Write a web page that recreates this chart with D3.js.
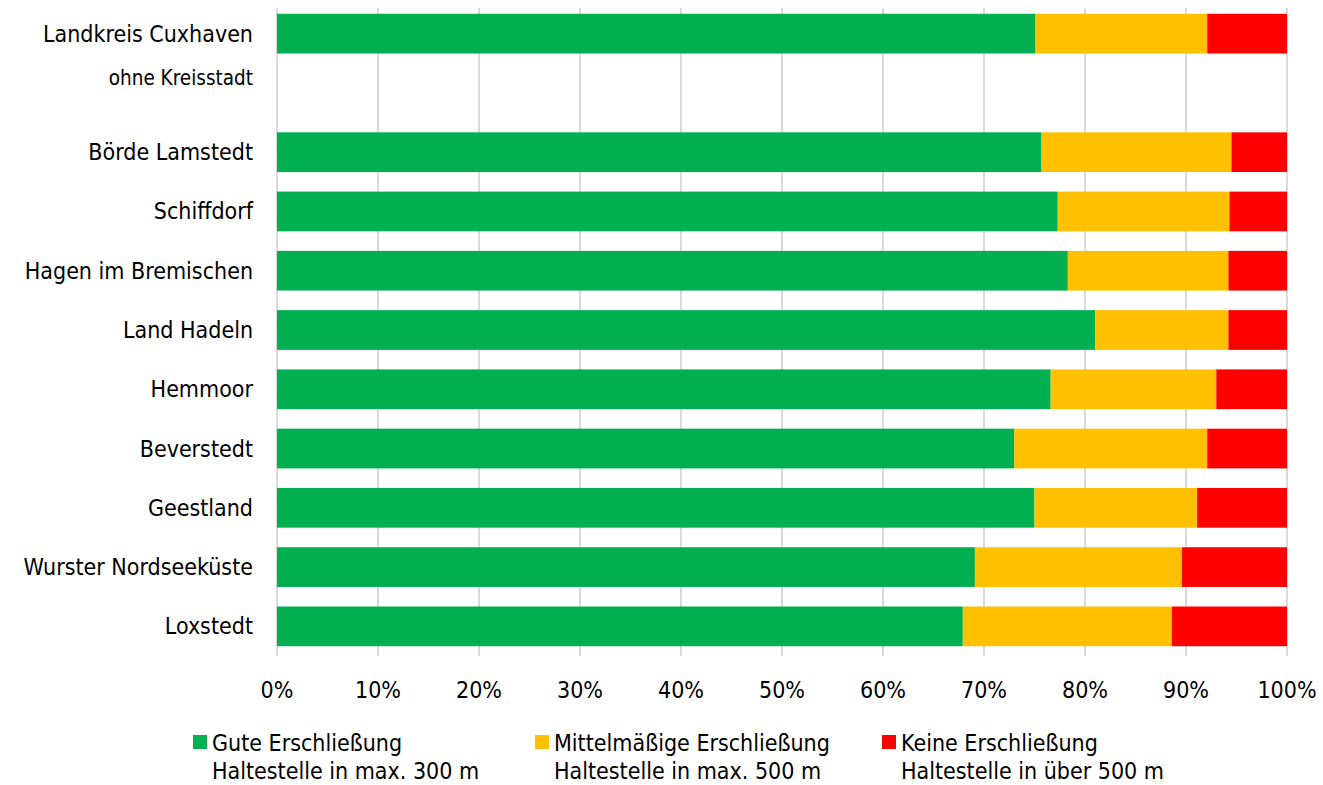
<!DOCTYPE html>
<html><head><meta charset="utf-8">
<script src="https://cdn.jsdelivr.net/npm/d3@7/dist/d3.min.js"></script>
<style>
body{margin:0;background:#fff;}
text{font-family:"DejaVu Sans Condensed","DejaVu Sans",sans-serif;fill:#000;}
</style></head><body>
<svg id="c" width="1323" height="785"></svg>
<script>
const categories = ["Landkreis Cuxhaven", "", "Börde Lamstedt", "Schiffdorf", "Hagen im Bremischen", "Land Hadeln", "Hemmoor", "Beverstedt", "Geestland", "Wurster Nordseeküste", "Loxstedt"];
const subLabel = "ohne Kreisstadt";
const good   = [75.1, null, 75.7, 77.3, 78.3, 81.0, 76.6, 73.0, 75.0, 69.1, 67.9];
const medium = [17.0, null, 18.8, 17.0, 15.9, 13.2, 16.4, 19.1, 16.1, 20.5, 20.7];
const none   = [7.9, null, 5.5, 5.7, 5.8, 5.8, 7.0, 7.9, 8.9, 10.4, 11.4];
const seriesNames = ["Gute Erschließung", "Mittelmäßige Erschließung", "Keine Erschließung"];
const seriesSub = ["Haltestelle in max. 300 m", "Haltestelle in max. 500 m", "Haltestelle in über 500 m"];
const colors = ["#00B050", "#FFC000", "#FF0000"];
const ticks = [0,10,20,30,40,50,60,70,80,90,100];

const svg = d3.select("#c");
const m = {left:277, right:36, top:4, bottom:129};
const W = 1323, H = 785;
const x = d3.scaleLinear().domain([0,100]).range([m.left, W - m.right]);
const keys = categories.map((c,i)=>"k"+i);
const y = d3.scaleBand().domain(keys).range([m.top, H - m.bottom]).paddingInner(0.33).paddingOuter(0.165);

// gridlines
svg.append("g").selectAll("line").data(ticks).join("line")
  .attr("x1", d=>x(d)).attr("x2", d=>x(d))
  .attr("y1", m.top + 4).attr("y2", H - m.bottom)
  .attr("stroke", "#D9D9D9").attr("stroke-width", 2);

const rows = categories.map((c,i)=>({key:keys[i], vals:[good[i], medium[i], none[i]]}));
const segs = [];
rows.forEach(r=>{
  if (r.vals[0] == null) return;
  let acc = 0;
  r.vals.forEach((v,j)=>{ segs.push({key:r.key, x0:acc, x1:acc+v, j}); acc += v; });
});
svg.append("g").selectAll("rect").data(segs).join("rect")
  .attr("x", d=>x(d.x0)).attr("width", d=>x(d.x1)-x(d.x0))
  .attr("y", d=>y(d.key)).attr("height", y.bandwidth())
  .attr("fill", d=>colors[d.j]);

// category labels
const lab = svg.append("g");
categories.forEach((c,i)=>{
  lab.append("text").attr("x", m.left - 24).attr("y", y(keys[i]) + y.bandwidth()/2)
    .attr("text-anchor","end").attr("dominant-baseline","central")
    .attr("font-size", 23).text(c);
});
lab.append("text").attr("x", m.left - 24).attr("y", y(keys[0]) + y.bandwidth()/2 + 44)
  .attr("text-anchor","end").attr("dominant-baseline","central")
  .attr("font-size", 20.5).text(subLabel);

// x tick labels
svg.append("g").selectAll("text").data(ticks).join("text")
  .attr("x", d=>x(d)).attr("y", 690).attr("text-anchor","middle")
  .attr("dominant-baseline","central").attr("font-size", 23)
  .text(d=>d + "%");

// legend
const lx = [193, 535, 882];
const lg = svg.append("g");
seriesNames.forEach((s,i)=>{
  lg.append("rect").attr("x", lx[i]).attr("y", 735).attr("width", 14).attr("height", 14).attr("fill", colors[i]);
  lg.append("text").attr("x", lx[i] + 19).attr("y", 743).attr("dominant-baseline","central").attr("font-size", 23).text(s);
  lg.append("text").attr("x", lx[i] + 19).attr("y", 771).attr("dominant-baseline","central").attr("font-size", 23).text(seriesSub[i]);
});
</script></body></html>
